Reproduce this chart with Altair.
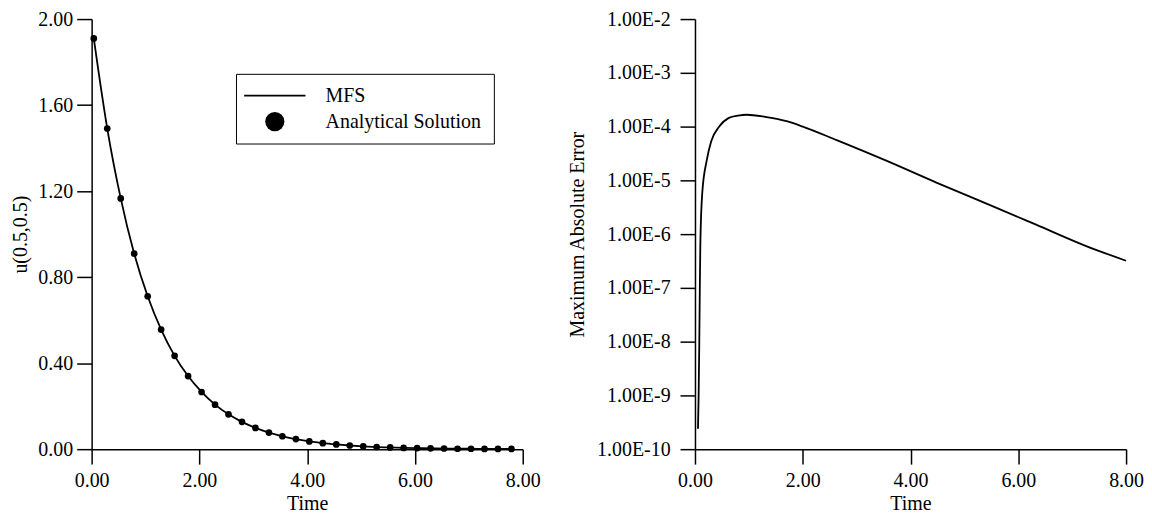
import altair as alt
import pandas as pd

FONT = "Liberation Serif"
FS = 20

# Left panel: u(0.5,0.5) vs time
time_pts = [0.04, 0.29, 0.54, 0.79, 1.04, 1.29, 1.54, 1.79, 2.04, 2.29, 2.54,
            2.79, 3.04, 3.29, 3.54, 3.79, 4.04, 4.29, 4.54, 4.79, 5.04, 5.29,
            5.54, 5.79, 6.04, 6.29, 6.54, 6.79, 7.04, 7.29, 7.54, 7.79]
u_analytical = [1.910, 1.491, 1.166, 0.909, 0.711, 0.556, 0.434, 0.340, 0.266,
                0.207, 0.162, 0.127, 0.099, 0.077, 0.060, 0.047, 0.036, 0.028,
                0.022, 0.017, 0.013, 0.010, 0.008, 0.006, 0.005, 0.004, 0.003,
                0.002, 0.002, 0.001, 0.001, 0.001]
u_mfs = [1.910, 1.491, 1.166, 0.909, 0.711, 0.556, 0.434, 0.340, 0.266,
         0.207, 0.162, 0.127, 0.099, 0.077, 0.060, 0.047, 0.036, 0.028,
         0.022, 0.017, 0.013, 0.010, 0.008, 0.006, 0.005, 0.004, 0.003,
         0.002, 0.002, 0.001, 0.001, 0.001]

# Right panel: maximum absolute error vs time
err_t = [0.056, 0.068, 0.08, 0.09, 0.10, 0.135, 0.22, 0.30, 0.45, 0.63, 0.80,
         0.96, 1.30, 1.70, 2.00, 2.63, 3.56, 4.48, 5.41, 6.33, 7.26, 8.00]
err_v = [2.4e-10, 1.0e-9, 9.5e-9, 1.0e-7, 6.8e-7, 5.8e-6, 2.4e-5, 5.3e-5,
         1.0e-4, 1.45e-4, 1.6e-4, 1.66e-4, 1.52e-4, 1.26e-4, 1.0e-4, 5.6e-5,
         2.3e-5, 9.1e-6, 3.7e-6, 1.5e-6, 6.0e-7, 3.2e-7]

x_ticks = [0, 2, 4, 6, 8]
u_ticks = [0, 0.4, 0.8, 1.2, 1.6, 2.0]
err_ticks = [1e-10, 1e-9, 1e-8, 1e-7, 1e-6, 1e-5, 1e-4, 1e-3, 1e-2]
series_names = ["MFS", "Analytical Solution"]

df_mfs = pd.DataFrame({"t": time_pts, "u": u_mfs, "series": series_names[0]})
df_an = pd.DataFrame({"t": time_pts, "u": u_analytical, "series": series_names[1]})
df_err = pd.DataFrame({"t": err_t, "e": err_v})

W, H = 433, 432

def x_enc():
    return alt.X("t:Q", scale=alt.Scale(domain=[0, 8], nice=False, zero=False),
                 axis=alt.Axis(values=x_ticks, format=".2f", title="Time",
                               labelFlush=False, labelPadding=6, titlePadding=4))

y_left = alt.Y("u:Q", scale=alt.Scale(domain=[0, 2], nice=False),
               axis=alt.Axis(values=u_ticks, format=".2f", title="u(0.5,0.5)",
                             labelFlush=False, labelPadding=4, titlePadding=7))

mfs_line = alt.Chart(df_mfs).mark_line(
    color="black", strokeWidth=1.8, interpolate="monotone"
).encode(x=x_enc(), y=y_left)

an_pts = alt.Chart(df_an).mark_point(
    filled=True, color="black", size=45, opacity=1
).encode(
    x=x_enc(), y=y_left,
    shape=alt.Shape(
        "series:N",
        scale=alt.Scale(domain=series_names,
                        range=["M-3.2,-0.09H3.2V0.09H-3.2Z", "circle"]),
        legend=alt.Legend(
            title=None, orient="none", legendX=145, legendY=55,
            strokeColor="black", fillColor="white", padding=12,
            symbolSize=370, symbolOffset=17, labelOffset=41, rowPadding=6,
            labelFont=FONT, labelFontSize=FS, labelColor="black",
            symbolFillColor="black", symbolStrokeWidth=0,
        ),
    ),
)

left = alt.layer(mfs_line, an_pts).properties(width=W, height=H)

right = alt.Chart(df_err).mark_line(
    color="black", strokeWidth=1.8, interpolate="monotone"
).encode(
    x=x_enc(),
    y=alt.Y("e:Q", scale=alt.Scale(type="log", domain=[1e-10, 1e-2], nice=False),
            axis=alt.Axis(values=err_ticks,
                          labelExpr="replace(format(datum.value, '.2e'), 'e', 'E')",
                          title="Maximum Absolute Error", labelFlush=False,
                          labelPadding=10, titlePadding=9)),
).properties(width=W, height=H)

chart = alt.hconcat(left, right, spacing=27).properties(
    padding={"left": 3, "top": 0, "right": 0, "bottom": 0}
).configure_view(stroke=None).configure_axis(
    grid=False, domainColor="black", domainWidth=1.5, tickColor="black",
    tickWidth=1.5, tickSize=15, labelFont=FONT, labelFontSize=FS,
    labelColor="black", titleFont=FONT, titleFontSize=FS,
    titleFontWeight="normal", titleColor="black",
)

chart.save("out.html", embed_options={"renderer": "svg", "actions": False})
